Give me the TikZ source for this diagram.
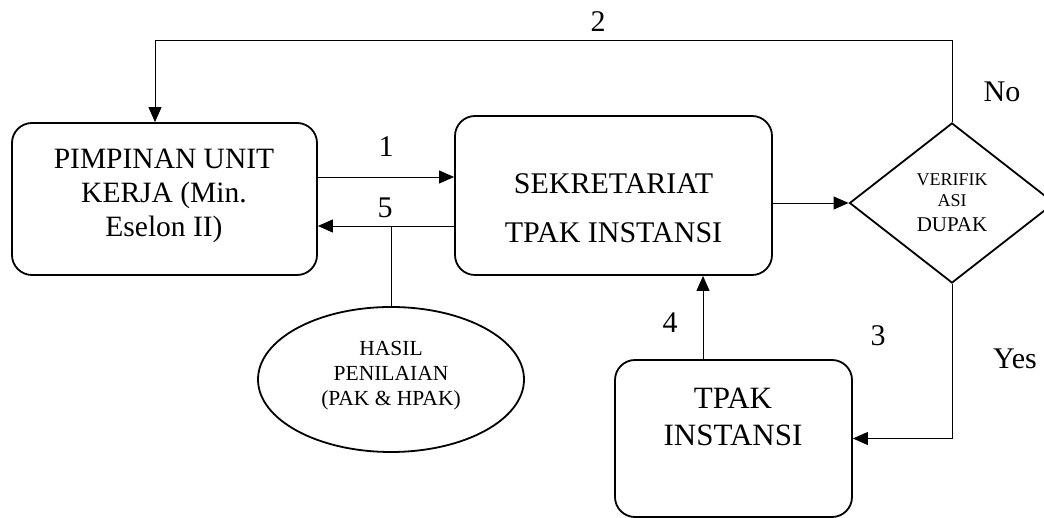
\documentclass[tikz,border=0pt]{standalone}
\usepackage{fontspec}
\setmainfont{Liberation Serif}
\usetikzlibrary{shapes.geometric,arrows.meta}
\begin{document}
\begin{tikzpicture}[x=1pt,y=-1pt,
  box/.style={draw,line width=1.8pt,rounded corners=20pt,inner sep=0pt},
  conn/.style={line width=0.9pt},
  arr/.style={line width=0.9pt,-{Triangle[length=15pt,width=13pt]}},
  txt/.style={inner sep=0pt,align=center},
  lbl/.style={inner sep=0pt,anchor=base,font=\fontsize{30}{36}\selectfont}]
\useasboundingbox (0,0) rectangle (1044,518);
% shapes
\node[box,minimum width=305pt,minimum height=152pt] (left) at (164.5,199) {};
\node[box,minimum width=317pt,minimum height=159pt] (mid) at (613.5,195.5) {};
\node[box,minimum width=237pt,minimum height=157pt] (tpak) at (733.5,438.5) {};
\node[draw,diamond,line width=1.8pt,inner sep=0pt,minimum width=205pt,minimum height=160pt] (dia) at (952,203) {};
\node[draw,ellipse,line width=1.8pt,inner sep=0pt,minimum width=266pt,minimum height=145pt] (ell) at (391,379.5) {};
% texts
\node[txt,font=\fontsize{29.5}{34}\selectfont] (leftT) at (164,195.5) {PIMPINAN UNIT\\KERJA (Min.\\Eselon II)};
\node[txt,font=\fontsize{30}{49}\selectfont] (midT) at (613.5,208) {SEKRETARIAT\\TPAK INSTANSI};
\node[txt,font=\fontsize{31}{37}\selectfont] (tpakT) at (733,416.5) {TPAK\\INSTANSI};
\node[txt,font=\fontsize{21.5}{25}\selectfont] (ellT) at (391,375.5) {HASIL\\PENILAIAN\\(PAK \& HPAK)};
\node[inner sep=0pt,anchor=base,font=\fontsize{18}{21}\selectfont] (diaT1) at (952,186) {VERIFIK};
\node[inner sep=0pt,anchor=base,font=\fontsize{18}{21}\selectfont] (diaT2) at (952,207) {ASI};
\node[inner sep=0pt,anchor=base,font=\fontsize{21}{25}\selectfont] (diaT3) at (952,232) {DUPAK};
% helper coordinates
\coordinate (t1) at (155,40);
\coordinate (y1) at (0,177);
\coordinate (y5) at (0,226);
\coordinate (x4) at (703,0);
% connectors
\draw[arr] (dia.north) |- (t1) -- (t1 |- left.north);
\draw[arr] (left.east |- y1) -- (mid.west |- y1);
\draw[arr] (mid.west |- y5) -- (left.east |- y5);
\draw[conn] (ell.north |- y5) -- (ell.north);
\draw[arr] (mid.east |- dia.west) -- (dia.west);
\draw[arr] (x4 |- tpak.north) -- (x4 |- mid.south);
\draw[arr] (dia.south) |- (tpak.east);
% labels
\node[lbl] (l1) at (386,157) {1};
\node[lbl] (l5) at (385,218) {5};
\node[lbl] (l2) at (598,32) {2};
\node[lbl] (l4) at (670,333) {4};
\node[lbl] (l3) at (878,346) {3};
\node[lbl] (lno) at (1002,102) {No};
\node[lbl] (lyes) at (1015,369) {Yes};
\end{tikzpicture}
\end{document}
